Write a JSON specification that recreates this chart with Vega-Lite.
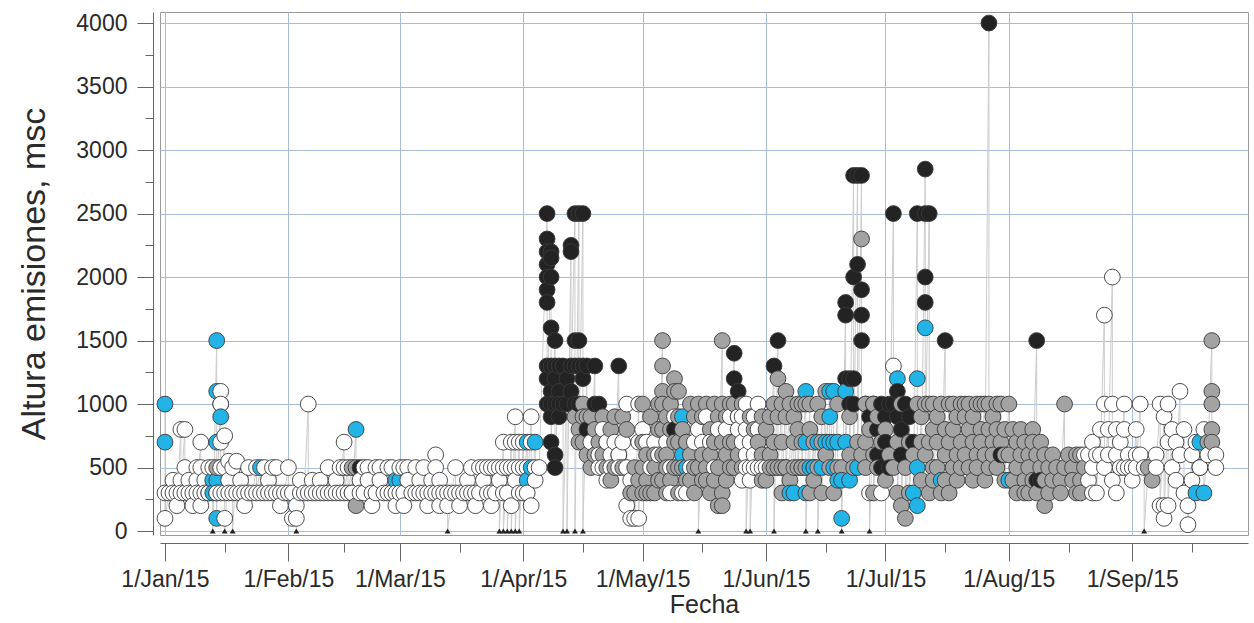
{
"$schema":"https://vega.github.io/schema/vega-lite/v6.json",
"width":1088,"height":523,
"autosize":{"type":"none"},
"padding":{"left":160,"top":12,"right":6,"bottom":88},
"background":"white",
"config":{"view":{"stroke":"#9a9a9a","strokeWidth":1},"font":"Liberation Sans"},
"data":{"values":[
{"d":"2015-01-01","h":1000,"c":"c"},{"d":"2015-01-01","h":700,"c":"c"},{"d":"2015-01-01","h":300,"c":"w"},{"d":"2015-01-01","h":100,"c":"w"},
{"d":"2015-01-02","h":300,"c":"w"},
{"d":"2015-01-03","h":400,"c":"w"},{"d":"2015-01-03","h":300,"c":"w"},
{"d":"2015-01-04","h":300,"c":"w"},{"d":"2015-01-04","h":200,"c":"w"},
{"d":"2015-01-05","h":800,"c":"w"},{"d":"2015-01-05","h":400,"c":"w"},{"d":"2015-01-05","h":300,"c":"w"},
{"d":"2015-01-06","h":800,"c":"w"},{"d":"2015-01-06","h":500,"c":"w"},{"d":"2015-01-06","h":300,"c":"w"},
{"d":"2015-01-07","h":400,"c":"w"},{"d":"2015-01-07","h":300,"c":"w"},
{"d":"2015-01-08","h":300,"c":"w"},{"d":"2015-01-08","h":200,"c":"w"},
{"d":"2015-01-09","h":500,"c":"w"},{"d":"2015-01-09","h":400,"c":"w"},{"d":"2015-01-09","h":300,"c":"w"},
{"d":"2015-01-10","h":700,"c":"w"},{"d":"2015-01-10","h":500,"c":"w"},{"d":"2015-01-10","h":300,"c":"w"},{"d":"2015-01-10","h":200,"c":"w"},
{"d":"2015-01-11","h":400,"c":"w"},{"d":"2015-01-11","h":300,"c":"w"},
{"d":"2015-01-12","h":500,"c":"w"},{"d":"2015-01-12","h":300,"c":"b"},{"d":"2015-01-12","h":300,"c":"w"},
{"d":"2015-01-13","h":400,"c":"c"},{"d":"2015-01-13","h":300,"c":"c"},{"d":"2015-01-13","h":500,"c":"w"},{"d":"2015-01-13","h":0,"c":"t"},
{"d":"2015-01-14","h":1500,"c":"c"},{"d":"2015-01-14","h":1100,"c":"c"},{"d":"2015-01-14","h":700,"c":"c"},{"d":"2015-01-14","h":400,"c":"c"},{"d":"2015-01-14","h":500,"c":"g"},{"d":"2015-01-14","h":300,"c":"c"},{"d":"2015-01-14","h":100,"c":"c"},{"d":"2015-01-14","h":300,"c":"w"},
{"d":"2015-01-15","h":1000,"c":"c"},{"d":"2015-01-15","h":1100,"c":"w"},{"d":"2015-01-15","h":1000,"c":"w"},{"d":"2015-01-15","h":900,"c":"c"},{"d":"2015-01-15","h":700,"c":"w"},{"d":"2015-01-15","h":500,"c":"w"},{"d":"2015-01-15","h":300,"c":"w"},
{"d":"2015-01-16","h":750,"c":"w"},{"d":"2015-01-16","h":500,"c":"w"},{"d":"2015-01-16","h":300,"c":"w"},{"d":"2015-01-16","h":100,"c":"w"},{"d":"2015-01-16","h":0,"c":"t"},
{"d":"2015-01-17","h":550,"c":"w"},{"d":"2015-01-17","h":400,"c":"w"},{"d":"2015-01-17","h":300,"c":"w"},
{"d":"2015-01-18","h":500,"c":"w"},{"d":"2015-01-18","h":300,"c":"w"},{"d":"2015-01-18","h":0,"c":"t"},
{"d":"2015-01-19","h":550,"c":"w"},{"d":"2015-01-19","h":300,"c":"w"},
{"d":"2015-01-20","h":400,"c":"w"},{"d":"2015-01-20","h":300,"c":"w"},
{"d":"2015-01-21","h":300,"c":"w"},{"d":"2015-01-21","h":200,"c":"w"},
{"d":"2015-01-22","h":500,"c":"w"},{"d":"2015-01-22","h":300,"c":"w"},
{"d":"2015-01-23","h":300,"c":"w"},
{"d":"2015-01-24","h":500,"c":"w"},{"d":"2015-01-24","h":300,"c":"w"},
{"d":"2015-01-25","h":500,"c":"c"},{"d":"2015-01-25","h":300,"c":"w"},
{"d":"2015-01-26","h":500,"c":"w"},{"d":"2015-01-26","h":300,"c":"w"},
{"d":"2015-01-27","h":400,"c":"w"},{"d":"2015-01-27","h":300,"c":"w"},
{"d":"2015-01-28","h":500,"c":"w"},{"d":"2015-01-28","h":300,"c":"w"},
{"d":"2015-01-29","h":500,"c":"w"},{"d":"2015-01-29","h":300,"c":"w"},
{"d":"2015-01-30","h":300,"c":"w"},{"d":"2015-01-30","h":200,"c":"w"},
{"d":"2015-01-31","h":300,"c":"w"},
{"d":"2015-02-01","h":500,"c":"w"},{"d":"2015-02-01","h":300,"c":"w"},
{"d":"2015-02-02","h":300,"c":"w"},{"d":"2015-02-02","h":100,"c":"w"},
{"d":"2015-02-03","h":200,"c":"w"},{"d":"2015-02-03","h":100,"c":"w"},{"d":"2015-02-03","h":0,"c":"t"},
{"d":"2015-02-04","h":300,"c":"w"},{"d":"2015-02-04","h":400,"c":"w"},
{"d":"2015-02-05","h":300,"c":"w"},
{"d":"2015-02-06","h":1000,"c":"w"},{"d":"2015-02-06","h":300,"c":"w"},
{"d":"2015-02-07","h":400,"c":"w"},{"d":"2015-02-07","h":300,"c":"w"},
{"d":"2015-02-08","h":300,"c":"w"},
{"d":"2015-02-09","h":400,"c":"w"},{"d":"2015-02-09","h":300,"c":"w"},
{"d":"2015-02-10","h":300,"c":"w"},
{"d":"2015-02-11","h":500,"c":"w"},{"d":"2015-02-11","h":300,"c":"w"},
{"d":"2015-02-12","h":300,"c":"w"},
{"d":"2015-02-13","h":400,"c":"w"},{"d":"2015-02-13","h":300,"c":"w"},
{"d":"2015-02-14","h":500,"c":"w"},{"d":"2015-02-14","h":300,"c":"w"},
{"d":"2015-02-15","h":700,"c":"w"},{"d":"2015-02-15","h":500,"c":"w"},{"d":"2015-02-15","h":300,"c":"w"},
{"d":"2015-02-16","h":500,"c":"w"},{"d":"2015-02-16","h":300,"c":"w"},
{"d":"2015-02-17","h":500,"c":"g"},{"d":"2015-02-17","h":300,"c":"c"},{"d":"2015-02-17","h":300,"c":"w"},
{"d":"2015-02-18","h":800,"c":"c"},{"d":"2015-02-18","h":500,"c":"g"},{"d":"2015-02-18","h":200,"c":"g"},
{"d":"2015-02-19","h":500,"c":"b"},{"d":"2015-02-19","h":400,"c":"w"},{"d":"2015-02-19","h":300,"c":"w"},
{"d":"2015-02-20","h":500,"c":"w"},{"d":"2015-02-20","h":300,"c":"w"},
{"d":"2015-02-21","h":500,"c":"w"},{"d":"2015-02-21","h":400,"c":"w"},
{"d":"2015-02-22","h":300,"c":"w"},{"d":"2015-02-22","h":200,"c":"w"},
{"d":"2015-02-23","h":500,"c":"w"},{"d":"2015-02-23","h":300,"c":"w"},
{"d":"2015-02-24","h":500,"c":"w"},{"d":"2015-02-24","h":400,"c":"w"},
{"d":"2015-02-25","h":300,"c":"w"},
{"d":"2015-02-26","h":500,"c":"w"},{"d":"2015-02-26","h":300,"c":"w"},
{"d":"2015-02-27","h":500,"c":"w"},{"d":"2015-02-27","h":300,"c":"w"},
{"d":"2015-02-28","h":400,"c":"c"},{"d":"2015-02-28","h":300,"c":"w"},{"d":"2015-02-28","h":200,"c":"w"},
{"d":"2015-03-01","h":400,"c":"c"},{"d":"2015-03-01","h":500,"c":"w"},{"d":"2015-03-01","h":300,"c":"w"},
{"d":"2015-03-02","h":500,"c":"w"},{"d":"2015-03-02","h":300,"c":"w"},{"d":"2015-03-02","h":200,"c":"w"},
{"d":"2015-03-03","h":500,"c":"w"},{"d":"2015-03-03","h":400,"c":"w"},
{"d":"2015-03-04","h":300,"c":"w"},
{"d":"2015-03-05","h":500,"c":"w"},{"d":"2015-03-05","h":300,"c":"w"},
{"d":"2015-03-06","h":400,"c":"w"},{"d":"2015-03-06","h":300,"c":"w"},
{"d":"2015-03-07","h":500,"c":"w"},{"d":"2015-03-07","h":300,"c":"w"},
{"d":"2015-03-08","h":300,"c":"w"},{"d":"2015-03-08","h":200,"c":"w"},
{"d":"2015-03-09","h":400,"c":"w"},{"d":"2015-03-09","h":300,"c":"w"},
{"d":"2015-03-10","h":600,"c":"w"},{"d":"2015-03-10","h":500,"c":"w"},{"d":"2015-03-10","h":300,"c":"w"},
{"d":"2015-03-11","h":400,"c":"w"},{"d":"2015-03-11","h":300,"c":"w"},{"d":"2015-03-11","h":200,"c":"w"},
{"d":"2015-03-12","h":300,"c":"w"},
{"d":"2015-03-13","h":300,"c":"w"},{"d":"2015-03-13","h":200,"c":"w"},{"d":"2015-03-13","h":0,"c":"t"},
{"d":"2015-03-14","h":300,"c":"w"},
{"d":"2015-03-15","h":500,"c":"w"},{"d":"2015-03-15","h":300,"c":"w"},
{"d":"2015-03-16","h":300,"c":"w"},{"d":"2015-03-16","h":200,"c":"w"},
{"d":"2015-03-17","h":300,"c":"w"},
{"d":"2015-03-18","h":400,"c":"w"},{"d":"2015-03-18","h":300,"c":"w"},
{"d":"2015-03-19","h":500,"c":"w"},{"d":"2015-03-19","h":300,"c":"w"},
{"d":"2015-03-20","h":300,"c":"w"},{"d":"2015-03-20","h":200,"c":"w"},
{"d":"2015-03-21","h":500,"c":"w"},{"d":"2015-03-21","h":300,"c":"w"},
{"d":"2015-03-22","h":500,"c":"w"},{"d":"2015-03-22","h":400,"c":"w"},
{"d":"2015-03-23","h":500,"c":"w"},{"d":"2015-03-23","h":300,"c":"w"},
{"d":"2015-03-24","h":500,"c":"w"},{"d":"2015-03-24","h":300,"c":"w"},{"d":"2015-03-24","h":200,"c":"w"},
{"d":"2015-03-25","h":500,"c":"w"},{"d":"2015-03-25","h":300,"c":"w"},
{"d":"2015-03-26","h":500,"c":"w"},{"d":"2015-03-26","h":400,"c":"w"},{"d":"2015-03-26","h":0,"c":"t"},
{"d":"2015-03-27","h":700,"c":"w"},{"d":"2015-03-27","h":500,"c":"w"},{"d":"2015-03-27","h":300,"c":"w"},{"d":"2015-03-27","h":0,"c":"t"},
{"d":"2015-03-28","h":500,"c":"w"},{"d":"2015-03-28","h":300,"c":"w"},{"d":"2015-03-28","h":0,"c":"t"},
{"d":"2015-03-29","h":700,"c":"w"},{"d":"2015-03-29","h":500,"c":"w"},{"d":"2015-03-29","h":200,"c":"w"},{"d":"2015-03-29","h":0,"c":"t"},
{"d":"2015-03-30","h":900,"c":"w"},{"d":"2015-03-30","h":700,"c":"w"},{"d":"2015-03-30","h":500,"c":"w"},{"d":"2015-03-30","h":400,"c":"w"},{"d":"2015-03-30","h":0,"c":"t"},
{"d":"2015-03-31","h":700,"c":"w"},{"d":"2015-03-31","h":500,"c":"w"},{"d":"2015-03-31","h":300,"c":"w"},{"d":"2015-03-31","h":0,"c":"t"},
{"d":"2015-04-01","h":700,"c":"w"},{"d":"2015-04-01","h":500,"c":"w"},{"d":"2015-04-01","h":300,"c":"w"},
{"d":"2015-04-02","h":700,"c":"c"},{"d":"2015-04-02","h":500,"c":"w"},{"d":"2015-04-02","h":400,"c":"c"},{"d":"2015-04-02","h":300,"c":"w"},
{"d":"2015-04-03","h":900,"c":"w"},{"d":"2015-04-03","h":700,"c":"w"},{"d":"2015-04-03","h":500,"c":"c"},{"d":"2015-04-03","h":200,"c":"w"},
{"d":"2015-04-04","h":700,"c":"c"},{"d":"2015-04-04","h":500,"c":"w"},{"d":"2015-04-04","h":400,"c":"w"},
{"d":"2015-04-05","h":500,"c":"w"},
{"d":"2015-04-07","h":2500,"c":"b"},{"d":"2015-04-07","h":2300,"c":"b"},{"d":"2015-04-07","h":2200,"c":"b"},{"d":"2015-04-07","h":2100,"c":"b"},{"d":"2015-04-07","h":2000,"c":"b"},{"d":"2015-04-07","h":1900,"c":"b"},{"d":"2015-04-07","h":1800,"c":"b"},{"d":"2015-04-07","h":1300,"c":"b"},{"d":"2015-04-07","h":1200,"c":"b"},{"d":"2015-04-07","h":1000,"c":"b"},
{"d":"2015-04-08","h":2200,"c":"b"},{"d":"2015-04-08","h":2150,"c":"b"},{"d":"2015-04-08","h":2000,"c":"b"},{"d":"2015-04-08","h":1600,"c":"b"},{"d":"2015-04-08","h":1300,"c":"b"},{"d":"2015-04-08","h":1100,"c":"b"},{"d":"2015-04-08","h":1000,"c":"b"},{"d":"2015-04-08","h":900,"c":"b"},{"d":"2015-04-08","h":700,"c":"b"},
{"d":"2015-04-09","h":1500,"c":"b"},{"d":"2015-04-09","h":1300,"c":"b"},{"d":"2015-04-09","h":1200,"c":"b"},{"d":"2015-04-09","h":1000,"c":"b"},{"d":"2015-04-09","h":600,"c":"b"},{"d":"2015-04-09","h":500,"c":"b"},
{"d":"2015-04-10","h":1300,"c":"b"},{"d":"2015-04-10","h":1100,"c":"b"},{"d":"2015-04-10","h":1000,"c":"b"},{"d":"2015-04-10","h":900,"c":"b"},
{"d":"2015-04-11","h":1300,"c":"b"},{"d":"2015-04-11","h":1000,"c":"b"},{"d":"2015-04-11","h":0,"c":"t"},
{"d":"2015-04-12","h":1200,"c":"b"},{"d":"2015-04-12","h":1000,"c":"b"},{"d":"2015-04-12","h":0,"c":"t"},
{"d":"2015-04-13","h":2250,"c":"b"},{"d":"2015-04-13","h":2200,"c":"b"},{"d":"2015-04-13","h":1300,"c":"b"},{"d":"2015-04-13","h":1100,"c":"b"},
{"d":"2015-04-14","h":2500,"c":"b"},{"d":"2015-04-14","h":1500,"c":"b"},{"d":"2015-04-14","h":1300,"c":"b"},{"d":"2015-04-14","h":1000,"c":"b"},{"d":"2015-04-14","h":900,"c":"g"},{"d":"2015-04-14","h":0,"c":"t"},
{"d":"2015-04-15","h":2500,"c":"b"},{"d":"2015-04-15","h":1500,"c":"b"},{"d":"2015-04-15","h":1300,"c":"b"},{"d":"2015-04-15","h":1000,"c":"b"},{"d":"2015-04-15","h":800,"c":"g"},{"d":"2015-04-15","h":700,"c":"g"},
{"d":"2015-04-16","h":2500,"c":"b"},{"d":"2015-04-16","h":1300,"c":"b"},{"d":"2015-04-16","h":1200,"c":"b"},{"d":"2015-04-16","h":1000,"c":"g"},{"d":"2015-04-16","h":900,"c":"g"},{"d":"2015-04-16","h":700,"c":"g"},{"d":"2015-04-16","h":0,"c":"t"},
{"d":"2015-04-17","h":1300,"c":"b"},{"d":"2015-04-17","h":900,"c":"g"},{"d":"2015-04-17","h":800,"c":"b"},{"d":"2015-04-17","h":600,"c":"g"},
{"d":"2015-04-18","h":900,"c":"g"},{"d":"2015-04-18","h":700,"c":"w"},{"d":"2015-04-18","h":500,"c":"g"},
{"d":"2015-04-19","h":1300,"c":"b"},{"d":"2015-04-19","h":1000,"c":"b"},{"d":"2015-04-19","h":800,"c":"g"},{"d":"2015-04-19","h":600,"c":"g"},
{"d":"2015-04-20","h":1000,"c":"b"},{"d":"2015-04-20","h":700,"c":"g"},{"d":"2015-04-20","h":600,"c":"w"},{"d":"2015-04-20","h":500,"c":"w"},
{"d":"2015-04-21","h":900,"c":"g"},{"d":"2015-04-21","h":800,"c":"w"},{"d":"2015-04-21","h":600,"c":"g"},{"d":"2015-04-21","h":500,"c":"w"},
{"d":"2015-04-22","h":700,"c":"g"},{"d":"2015-04-22","h":700,"c":"w"},{"d":"2015-04-22","h":500,"c":"g"},{"d":"2015-04-22","h":400,"c":"w"},
{"d":"2015-04-23","h":800,"c":"g"},{"d":"2015-04-23","h":600,"c":"w"},{"d":"2015-04-23","h":500,"c":"w"},{"d":"2015-04-23","h":400,"c":"g"},
{"d":"2015-04-24","h":900,"c":"g"},{"d":"2015-04-24","h":700,"c":"w"},{"d":"2015-04-24","h":500,"c":"g"},
{"d":"2015-04-25","h":1300,"c":"b"},{"d":"2015-04-25","h":600,"c":"g"},{"d":"2015-04-25","h":600,"c":"w"},{"d":"2015-04-25","h":500,"c":"w"},
{"d":"2015-04-26","h":900,"c":"g"},{"d":"2015-04-26","h":700,"c":"w"},{"d":"2015-04-26","h":500,"c":"g"},
{"d":"2015-04-27","h":1000,"c":"w"},{"d":"2015-04-27","h":800,"c":"g"},{"d":"2015-04-27","h":500,"c":"w"},{"d":"2015-04-27","h":200,"c":"w"},
{"d":"2015-04-28","h":400,"c":"w"},{"d":"2015-04-28","h":300,"c":"g"},{"d":"2015-04-28","h":100,"c":"w"},
{"d":"2015-04-29","h":500,"c":"g"},{"d":"2015-04-29","h":300,"c":"g"},{"d":"2015-04-29","h":100,"c":"w"},
{"d":"2015-04-30","h":1000,"c":"w"},{"d":"2015-04-30","h":700,"c":"w"},{"d":"2015-04-30","h":400,"c":"g"},{"d":"2015-04-30","h":100,"c":"w"},
{"d":"2015-05-01","h":1000,"c":"g"},{"d":"2015-05-01","h":800,"c":"w"},{"d":"2015-05-01","h":700,"c":"g"},{"d":"2015-05-01","h":500,"c":"g"},{"d":"2015-05-01","h":300,"c":"g"},
{"d":"2015-05-02","h":700,"c":"w"},{"d":"2015-05-02","h":600,"c":"g"},{"d":"2015-05-02","h":400,"c":"g"},{"d":"2015-05-02","h":300,"c":"g"},
{"d":"2015-05-03","h":900,"c":"g"},{"d":"2015-05-03","h":500,"c":"w"},{"d":"2015-05-03","h":300,"c":"g"},
{"d":"2015-05-04","h":700,"c":"w"},{"d":"2015-05-04","h":600,"c":"g"},{"d":"2015-05-04","h":500,"c":"g"},{"d":"2015-05-04","h":300,"c":"g"},
{"d":"2015-05-05","h":1000,"c":"g"},{"d":"2015-05-05","h":800,"c":"g"},{"d":"2015-05-05","h":600,"c":"w"},{"d":"2015-05-05","h":400,"c":"g"},
{"d":"2015-05-06","h":1500,"c":"g"},{"d":"2015-05-06","h":1300,"c":"g"},{"d":"2015-05-06","h":1100,"c":"g"},{"d":"2015-05-06","h":1000,"c":"g"},{"d":"2015-05-06","h":800,"c":"g"},{"d":"2015-05-06","h":600,"c":"g"},{"d":"2015-05-06","h":400,"c":"g"},
{"d":"2015-05-07","h":900,"c":"g"},{"d":"2015-05-07","h":700,"c":"w"},{"d":"2015-05-07","h":600,"c":"g"},{"d":"2015-05-07","h":500,"c":"g"},{"d":"2015-05-07","h":300,"c":"g"},
{"d":"2015-05-08","h":1000,"c":"g"},{"d":"2015-05-08","h":800,"c":"g"},{"d":"2015-05-08","h":500,"c":"w"},{"d":"2015-05-08","h":400,"c":"g"},{"d":"2015-05-08","h":300,"c":"w"},
{"d":"2015-05-09","h":1200,"c":"g"},{"d":"2015-05-09","h":1100,"c":"g"},{"d":"2015-05-09","h":900,"c":"w"},{"d":"2015-05-09","h":800,"c":"b"},{"d":"2015-05-09","h":700,"c":"g"},{"d":"2015-05-09","h":500,"c":"g"},
{"d":"2015-05-10","h":1100,"c":"g"},{"d":"2015-05-10","h":900,"c":"g"},{"d":"2015-05-10","h":700,"c":"g"},{"d":"2015-05-10","h":500,"c":"g"},{"d":"2015-05-10","h":300,"c":"g"},
{"d":"2015-05-11","h":900,"c":"c"},{"d":"2015-05-11","h":800,"c":"g"},{"d":"2015-05-11","h":600,"c":"c"},{"d":"2015-05-11","h":500,"c":"g"},{"d":"2015-05-11","h":300,"c":"w"},
{"d":"2015-05-12","h":700,"c":"c"},{"d":"2015-05-12","h":700,"c":"g"},{"d":"2015-05-12","h":500,"c":"c"},{"d":"2015-05-12","h":400,"c":"g"},{"d":"2015-05-12","h":300,"c":"w"},
{"d":"2015-05-13","h":1000,"c":"g"},{"d":"2015-05-13","h":600,"c":"g"},{"d":"2015-05-13","h":500,"c":"w"},{"d":"2015-05-13","h":400,"c":"g"},
{"d":"2015-05-14","h":900,"c":"g"},{"d":"2015-05-14","h":700,"c":"w"},{"d":"2015-05-14","h":500,"c":"g"},{"d":"2015-05-14","h":300,"c":"g"},
{"d":"2015-05-15","h":1000,"c":"g"},{"d":"2015-05-15","h":800,"c":"w"},{"d":"2015-05-15","h":500,"c":"g"},{"d":"2015-05-15","h":0,"c":"t"},
{"d":"2015-05-16","h":900,"c":"g"},{"d":"2015-05-16","h":700,"c":"w"},{"d":"2015-05-16","h":600,"c":"g"},{"d":"2015-05-16","h":400,"c":"g"},
{"d":"2015-05-17","h":1000,"c":"g"},{"d":"2015-05-17","h":900,"c":"w"},{"d":"2015-05-17","h":500,"c":"g"},{"d":"2015-05-17","h":400,"c":"g"},
{"d":"2015-05-18","h":800,"c":"g"},{"d":"2015-05-18","h":700,"c":"w"},{"d":"2015-05-18","h":600,"c":"g"},{"d":"2015-05-18","h":300,"c":"g"},
{"d":"2015-05-19","h":1000,"c":"g"},{"d":"2015-05-19","h":700,"c":"g"},{"d":"2015-05-19","h":500,"c":"w"},{"d":"2015-05-19","h":400,"c":"g"},
{"d":"2015-05-20","h":900,"c":"g"},{"d":"2015-05-20","h":800,"c":"w"},{"d":"2015-05-20","h":500,"c":"g"},{"d":"2015-05-20","h":200,"c":"g"},
{"d":"2015-05-21","h":1500,"c":"g"},{"d":"2015-05-21","h":1000,"c":"g"},{"d":"2015-05-21","h":700,"c":"g"},{"d":"2015-05-21","h":300,"c":"g"},{"d":"2015-05-21","h":200,"c":"g"},
{"d":"2015-05-22","h":900,"c":"g"},{"d":"2015-05-22","h":800,"c":"w"},{"d":"2015-05-22","h":600,"c":"g"},{"d":"2015-05-22","h":400,"c":"g"},
{"d":"2015-05-23","h":1000,"c":"g"},{"d":"2015-05-23","h":900,"c":"w"},{"d":"2015-05-23","h":700,"c":"g"},{"d":"2015-05-23","h":500,"c":"g"},
{"d":"2015-05-24","h":1400,"c":"b"},{"d":"2015-05-24","h":1200,"c":"b"},{"d":"2015-05-24","h":1000,"c":"g"},{"d":"2015-05-24","h":700,"c":"g"},{"d":"2015-05-24","h":500,"c":"g"},
{"d":"2015-05-25","h":1100,"c":"b"},{"d":"2015-05-25","h":900,"c":"g"},{"d":"2015-05-25","h":900,"c":"w"},{"d":"2015-05-25","h":800,"c":"w"},{"d":"2015-05-25","h":600,"c":"g"},
{"d":"2015-05-26","h":1000,"c":"g"},{"d":"2015-05-26","h":900,"c":"w"},{"d":"2015-05-26","h":700,"c":"w"},{"d":"2015-05-26","h":500,"c":"g"},{"d":"2015-05-26","h":400,"c":"w"},
{"d":"2015-05-27","h":1000,"c":"w"},{"d":"2015-05-27","h":800,"c":"w"},{"d":"2015-05-27","h":600,"c":"w"},{"d":"2015-05-27","h":500,"c":"w"},{"d":"2015-05-27","h":0,"c":"t"},
{"d":"2015-05-28","h":900,"c":"g"},{"d":"2015-05-28","h":700,"c":"w"},{"d":"2015-05-28","h":500,"c":"w"},{"d":"2015-05-28","h":400,"c":"w"},{"d":"2015-05-28","h":0,"c":"t"},
{"d":"2015-05-29","h":900,"c":"w"},{"d":"2015-05-29","h":800,"c":"g"},{"d":"2015-05-29","h":600,"c":"w"},{"d":"2015-05-29","h":500,"c":"w"},
{"d":"2015-05-30","h":1000,"c":"w"},{"d":"2015-05-30","h":800,"c":"w"},{"d":"2015-05-30","h":700,"c":"g"},{"d":"2015-05-30","h":500,"c":"w"},
{"d":"2015-05-31","h":900,"c":"g"},{"d":"2015-05-31","h":600,"c":"g"},{"d":"2015-05-31","h":500,"c":"w"},{"d":"2015-05-31","h":400,"c":"g"},
{"d":"2015-06-01","h":800,"c":"g"},{"d":"2015-06-01","h":500,"c":"w"},{"d":"2015-06-01","h":400,"c":"g"},
{"d":"2015-06-02","h":900,"c":"g"},{"d":"2015-06-02","h":600,"c":"g"},{"d":"2015-06-02","h":500,"c":"g"},
{"d":"2015-06-03","h":1300,"c":"b"},{"d":"2015-06-03","h":1000,"c":"g"},{"d":"2015-06-03","h":700,"c":"g"},{"d":"2015-06-03","h":500,"c":"g"},{"d":"2015-06-03","h":0,"c":"t"},
{"d":"2015-06-04","h":1500,"c":"b"},{"d":"2015-06-04","h":1200,"c":"g"},{"d":"2015-06-04","h":900,"c":"g"},{"d":"2015-06-04","h":500,"c":"g"},
{"d":"2015-06-05","h":1000,"c":"g"},{"d":"2015-06-05","h":700,"c":"g"},{"d":"2015-06-05","h":500,"c":"g"},{"d":"2015-06-05","h":300,"c":"g"},
{"d":"2015-06-06","h":1100,"c":"g"},{"d":"2015-06-06","h":900,"c":"g"},{"d":"2015-06-06","h":500,"c":"c"},{"d":"2015-06-06","h":500,"c":"g"},
{"d":"2015-06-07","h":1000,"c":"g"},{"d":"2015-06-07","h":400,"c":"g"},{"d":"2015-06-07","h":300,"c":"c"},
{"d":"2015-06-08","h":900,"c":"g"},{"d":"2015-06-08","h":700,"c":"g"},{"d":"2015-06-08","h":500,"c":"g"},{"d":"2015-06-08","h":300,"c":"c"},
{"d":"2015-06-09","h":1000,"c":"g"},{"d":"2015-06-09","h":800,"c":"g"},{"d":"2015-06-09","h":500,"c":"g"},
{"d":"2015-06-10","h":1000,"c":"g"},{"d":"2015-06-10","h":700,"c":"g"},{"d":"2015-06-10","h":500,"c":"c"},{"d":"2015-06-10","h":500,"c":"g"},
{"d":"2015-06-11","h":1100,"c":"c"},{"d":"2015-06-11","h":1000,"c":"g"},{"d":"2015-06-11","h":700,"c":"c"},{"d":"2015-06-11","h":500,"c":"g"},{"d":"2015-06-11","h":300,"c":"c"},{"d":"2015-06-11","h":0,"c":"t"},
{"d":"2015-06-12","h":1000,"c":"g"},{"d":"2015-06-12","h":800,"c":"g"},{"d":"2015-06-12","h":500,"c":"c"},{"d":"2015-06-12","h":300,"c":"g"},
{"d":"2015-06-13","h":700,"c":"g"},{"d":"2015-06-13","h":500,"c":"g"},{"d":"2015-06-13","h":500,"c":"c"},{"d":"2015-06-13","h":400,"c":"g"},
{"d":"2015-06-14","h":1000,"c":"g"},{"d":"2015-06-14","h":700,"c":"c"},{"d":"2015-06-14","h":500,"c":"g"},{"d":"2015-06-14","h":0,"c":"t"},
{"d":"2015-06-15","h":900,"c":"g"},{"d":"2015-06-15","h":700,"c":"g"},{"d":"2015-06-15","h":500,"c":"c"},{"d":"2015-06-15","h":300,"c":"g"},
{"d":"2015-06-16","h":1100,"c":"g"},{"d":"2015-06-16","h":700,"c":"c"},{"d":"2015-06-16","h":600,"c":"g"},
{"d":"2015-06-17","h":1100,"c":"c"},{"d":"2015-06-17","h":900,"c":"c"},{"d":"2015-06-17","h":700,"c":"c"},{"d":"2015-06-17","h":500,"c":"g"},
{"d":"2015-06-18","h":1100,"c":"c"},{"d":"2015-06-18","h":700,"c":"c"},{"d":"2015-06-18","h":500,"c":"c"},{"d":"2015-06-18","h":300,"c":"g"},
{"d":"2015-06-19","h":1000,"c":"g"},{"d":"2015-06-19","h":700,"c":"c"},{"d":"2015-06-19","h":500,"c":"g"},{"d":"2015-06-19","h":400,"c":"c"},
{"d":"2015-06-20","h":500,"c":"g"},{"d":"2015-06-20","h":400,"c":"c"},{"d":"2015-06-20","h":100,"c":"c"},{"d":"2015-06-20","h":0,"c":"t"},
{"d":"2015-06-21","h":1800,"c":"b"},{"d":"2015-06-21","h":1700,"c":"b"},{"d":"2015-06-21","h":1200,"c":"b"},{"d":"2015-06-21","h":1100,"c":"c"},{"d":"2015-06-21","h":700,"c":"c"},
{"d":"2015-06-22","h":1200,"c":"b"},{"d":"2015-06-22","h":1000,"c":"b"},{"d":"2015-06-22","h":900,"c":"g"},{"d":"2015-06-22","h":600,"c":"g"},{"d":"2015-06-22","h":400,"c":"c"},
{"d":"2015-06-23","h":2800,"c":"b"},{"d":"2015-06-23","h":2000,"c":"b"},{"d":"2015-06-23","h":1200,"c":"b"},{"d":"2015-06-23","h":1000,"c":"b"},{"d":"2015-06-23","h":500,"c":"g"},
{"d":"2015-06-24","h":2800,"c":"b"},{"d":"2015-06-24","h":2100,"c":"b"},{"d":"2015-06-24","h":700,"c":"g"},{"d":"2015-06-24","h":500,"c":"c"},
{"d":"2015-06-25","h":2800,"c":"b"},{"d":"2015-06-25","h":2300,"c":"g"},{"d":"2015-06-25","h":1900,"c":"b"},{"d":"2015-06-25","h":1700,"c":"b"},{"d":"2015-06-25","h":1500,"c":"b"},{"d":"2015-06-25","h":600,"c":"g"},
{"d":"2015-06-26","h":1000,"c":"b"},{"d":"2015-06-26","h":1000,"c":"g"},{"d":"2015-06-26","h":700,"c":"g"},{"d":"2015-06-26","h":500,"c":"g"},
{"d":"2015-06-27","h":900,"c":"b"},{"d":"2015-06-27","h":800,"c":"g"},{"d":"2015-06-27","h":300,"c":"w"},{"d":"2015-06-27","h":0,"c":"t"},
{"d":"2015-06-28","h":1000,"c":"b"},{"d":"2015-06-28","h":1000,"c":"g"},{"d":"2015-06-28","h":600,"c":"g"},{"d":"2015-06-28","h":300,"c":"g"},
{"d":"2015-06-29","h":800,"c":"b"},{"d":"2015-06-29","h":900,"c":"g"},{"d":"2015-06-29","h":600,"c":"b"},{"d":"2015-06-29","h":500,"c":"g"},
{"d":"2015-06-30","h":1000,"c":"b"},{"d":"2015-06-30","h":700,"c":"g"},{"d":"2015-06-30","h":500,"c":"b"},{"d":"2015-06-30","h":300,"c":"w"},
{"d":"2015-07-01","h":900,"c":"b"},{"d":"2015-07-01","h":800,"c":"g"},{"d":"2015-07-01","h":700,"c":"b"},{"d":"2015-07-01","h":400,"c":"g"},
{"d":"2015-07-02","h":1000,"c":"b"},{"d":"2015-07-02","h":600,"c":"g"},{"d":"2015-07-02","h":500,"c":"b"},
{"d":"2015-07-03","h":2500,"c":"b"},{"d":"2015-07-03","h":1300,"c":"w"},{"d":"2015-07-03","h":1000,"c":"b"},{"d":"2015-07-03","h":500,"c":"g"},
{"d":"2015-07-04","h":1200,"c":"c"},{"d":"2015-07-04","h":1100,"c":"b"},{"d":"2015-07-04","h":900,"c":"b"},{"d":"2015-07-04","h":700,"c":"g"},{"d":"2015-07-04","h":300,"c":"g"},
{"d":"2015-07-05","h":1000,"c":"g"},{"d":"2015-07-05","h":800,"c":"b"},{"d":"2015-07-05","h":600,"c":"b"},{"d":"2015-07-05","h":200,"c":"g"},
{"d":"2015-07-06","h":1000,"c":"b"},{"d":"2015-07-06","h":500,"c":"g"},{"d":"2015-07-06","h":100,"c":"g"},
{"d":"2015-07-07","h":900,"c":"b"},{"d":"2015-07-07","h":700,"c":"c"},{"d":"2015-07-07","h":700,"c":"g"},{"d":"2015-07-07","h":300,"c":"g"},
{"d":"2015-07-08","h":700,"c":"b"},{"d":"2015-07-08","h":600,"c":"g"},{"d":"2015-07-08","h":300,"c":"c"},
{"d":"2015-07-09","h":2500,"c":"b"},{"d":"2015-07-09","h":1200,"c":"c"},{"d":"2015-07-09","h":1000,"c":"g"},{"d":"2015-07-09","h":500,"c":"c"},{"d":"2015-07-09","h":200,"c":"c"},
{"d":"2015-07-10","h":900,"c":"g"},{"d":"2015-07-10","h":700,"c":"g"},{"d":"2015-07-10","h":400,"c":"g"},
{"d":"2015-07-11","h":2850,"c":"b"},{"d":"2015-07-11","h":2500,"c":"b"},{"d":"2015-07-11","h":2000,"c":"b"},{"d":"2015-07-11","h":1800,"c":"b"},{"d":"2015-07-11","h":1600,"c":"c"},{"d":"2015-07-11","h":1000,"c":"g"},{"d":"2015-07-11","h":600,"c":"g"},
{"d":"2015-07-12","h":2500,"c":"b"},{"d":"2015-07-12","h":1000,"c":"g"},{"d":"2015-07-12","h":700,"c":"g"},{"d":"2015-07-12","h":300,"c":"g"},
{"d":"2015-07-13","h":1000,"c":"g"},{"d":"2015-07-13","h":800,"c":"g"},{"d":"2015-07-13","h":500,"c":"g"},{"d":"2015-07-13","h":400,"c":"g"},
{"d":"2015-07-14","h":900,"c":"g"},{"d":"2015-07-14","h":700,"c":"g"},{"d":"2015-07-14","h":500,"c":"g"},
{"d":"2015-07-15","h":1000,"c":"g"},{"d":"2015-07-15","h":400,"c":"c"},{"d":"2015-07-15","h":300,"c":"g"},
{"d":"2015-07-16","h":1500,"c":"b"},{"d":"2015-07-16","h":800,"c":"g"},{"d":"2015-07-16","h":600,"c":"g"},{"d":"2015-07-16","h":400,"c":"g"},
{"d":"2015-07-17","h":1000,"c":"g"},{"d":"2015-07-17","h":700,"c":"g"},{"d":"2015-07-17","h":300,"c":"g"},
{"d":"2015-07-18","h":1000,"c":"g"},{"d":"2015-07-18","h":800,"c":"g"},{"d":"2015-07-18","h":500,"c":"g"},
{"d":"2015-07-19","h":900,"c":"g"},{"d":"2015-07-19","h":600,"c":"g"},{"d":"2015-07-19","h":400,"c":"g"},
{"d":"2015-07-20","h":1000,"c":"g"},{"d":"2015-07-20","h":700,"c":"g"},{"d":"2015-07-20","h":500,"c":"g"},
{"d":"2015-07-21","h":1000,"c":"g"},{"d":"2015-07-21","h":900,"c":"g"},{"d":"2015-07-21","h":600,"c":"g"},
{"d":"2015-07-22","h":1000,"c":"g"},{"d":"2015-07-22","h":800,"c":"g"},{"d":"2015-07-22","h":500,"c":"g"},
{"d":"2015-07-23","h":900,"c":"g"},{"d":"2015-07-23","h":700,"c":"g"},{"d":"2015-07-23","h":400,"c":"g"},
{"d":"2015-07-24","h":1000,"c":"g"},{"d":"2015-07-24","h":600,"c":"g"},{"d":"2015-07-24","h":500,"c":"g"},
{"d":"2015-07-25","h":1000,"c":"g"},{"d":"2015-07-25","h":800,"c":"g"},{"d":"2015-07-25","h":700,"c":"g"},
{"d":"2015-07-26","h":1000,"c":"g"},{"d":"2015-07-26","h":600,"c":"g"},{"d":"2015-07-26","h":400,"c":"g"},
{"d":"2015-07-27","h":4000,"c":"b"},{"d":"2015-07-27","h":1000,"c":"g"},{"d":"2015-07-27","h":800,"c":"g"},{"d":"2015-07-27","h":500,"c":"g"},
{"d":"2015-07-28","h":900,"c":"g"},{"d":"2015-07-28","h":700,"c":"g"},{"d":"2015-07-28","h":600,"c":"g"},
{"d":"2015-07-29","h":1000,"c":"g"},{"d":"2015-07-29","h":800,"c":"g"},{"d":"2015-07-29","h":500,"c":"g"},
{"d":"2015-07-30","h":1000,"c":"g"},{"d":"2015-07-30","h":700,"c":"g"},{"d":"2015-07-30","h":600,"c":"b"},
{"d":"2015-07-31","h":800,"c":"g"},{"d":"2015-07-31","h":600,"c":"g"},{"d":"2015-07-31","h":400,"c":"g"},
{"d":"2015-08-01","h":1000,"c":"g"},{"d":"2015-08-01","h":600,"c":"g"},{"d":"2015-08-01","h":400,"c":"c"},
{"d":"2015-08-02","h":800,"c":"g"},{"d":"2015-08-02","h":400,"c":"g"},
{"d":"2015-08-03","h":700,"c":"g"},{"d":"2015-08-03","h":500,"c":"g"},{"d":"2015-08-03","h":300,"c":"g"},
{"d":"2015-08-04","h":800,"c":"g"},{"d":"2015-08-04","h":600,"c":"g"},
{"d":"2015-08-05","h":700,"c":"g"},{"d":"2015-08-05","h":400,"c":"g"},{"d":"2015-08-05","h":300,"c":"g"},
{"d":"2015-08-06","h":600,"c":"g"},{"d":"2015-08-06","h":500,"c":"g"},{"d":"2015-08-06","h":300,"c":"g"},
{"d":"2015-08-07","h":800,"c":"g"},{"d":"2015-08-07","h":700,"c":"g"},{"d":"2015-08-07","h":400,"c":"g"},
{"d":"2015-08-08","h":1500,"c":"b"},{"d":"2015-08-08","h":600,"c":"g"},{"d":"2015-08-08","h":400,"c":"b"},{"d":"2015-08-08","h":300,"c":"g"},
{"d":"2015-08-09","h":700,"c":"g"},{"d":"2015-08-09","h":500,"c":"g"},{"d":"2015-08-09","h":400,"c":"b"},
{"d":"2015-08-10","h":600,"c":"g"},{"d":"2015-08-10","h":400,"c":"g"},{"d":"2015-08-10","h":200,"c":"g"},
{"d":"2015-08-11","h":500,"c":"g"},{"d":"2015-08-11","h":300,"c":"g"},
{"d":"2015-08-12","h":600,"c":"g"},{"d":"2015-08-12","h":400,"c":"g"},
{"d":"2015-08-13","h":500,"c":"g"},
{"d":"2015-08-14","h":400,"c":"g"},{"d":"2015-08-14","h":300,"c":"g"},
{"d":"2015-08-15","h":1000,"c":"g"},{"d":"2015-08-15","h":500,"c":"g"},
{"d":"2015-08-16","h":600,"c":"g"},
{"d":"2015-08-17","h":500,"c":"g"},{"d":"2015-08-17","h":400,"c":"g"},
{"d":"2015-08-18","h":600,"c":"g"},{"d":"2015-08-18","h":300,"c":"g"},
{"d":"2015-08-19","h":600,"c":"g"},{"d":"2015-08-19","h":400,"c":"g"},{"d":"2015-08-19","h":300,"c":"g"},
{"d":"2015-08-20","h":600,"c":"w"},{"d":"2015-08-20","h":500,"c":"g"},
{"d":"2015-08-21","h":600,"c":"w"},{"d":"2015-08-21","h":400,"c":"w"},
{"d":"2015-08-22","h":700,"c":"w"},{"d":"2015-08-22","h":500,"c":"w"},{"d":"2015-08-22","h":300,"c":"w"},
{"d":"2015-08-23","h":600,"c":"w"},{"d":"2015-08-23","h":300,"c":"w"},
{"d":"2015-08-24","h":800,"c":"w"},{"d":"2015-08-24","h":600,"c":"w"},
{"d":"2015-08-25","h":1700,"c":"w"},{"d":"2015-08-25","h":1000,"c":"w"},{"d":"2015-08-25","h":500,"c":"w"},
{"d":"2015-08-26","h":800,"c":"w"},{"d":"2015-08-26","h":600,"c":"w"},
{"d":"2015-08-27","h":2000,"c":"w"},{"d":"2015-08-27","h":1000,"c":"w"},{"d":"2015-08-27","h":400,"c":"w"},
{"d":"2015-08-28","h":800,"c":"w"},{"d":"2015-08-28","h":600,"c":"w"},{"d":"2015-08-28","h":300,"c":"w"},
{"d":"2015-08-29","h":700,"c":"w"},{"d":"2015-08-29","h":500,"c":"w"},
{"d":"2015-08-30","h":1000,"c":"w"},{"d":"2015-08-30","h":800,"c":"w"},{"d":"2015-08-30","h":500,"c":"w"},
{"d":"2015-08-31","h":600,"c":"w"},{"d":"2015-08-31","h":500,"c":"w"},
{"d":"2015-09-01","h":500,"c":"w"},{"d":"2015-09-01","h":400,"c":"w"},
{"d":"2015-09-02","h":800,"c":"w"},{"d":"2015-09-02","h":600,"c":"w"},{"d":"2015-09-02","h":500,"c":"w"},
{"d":"2015-09-03","h":1000,"c":"w"},{"d":"2015-09-03","h":600,"c":"w"},
{"d":"2015-09-04","h":500,"c":"w"},{"d":"2015-09-04","h":0,"c":"t"},
{"d":"2015-09-05","h":500,"c":"g"},
{"d":"2015-09-06","h":400,"c":"g"},
{"d":"2015-09-07","h":600,"c":"w"},{"d":"2015-09-07","h":500,"c":"w"},
{"d":"2015-09-08","h":1000,"c":"w"},{"d":"2015-09-08","h":200,"c":"w"},
{"d":"2015-09-09","h":900,"c":"w"},{"d":"2015-09-09","h":200,"c":"w"},{"d":"2015-09-09","h":100,"c":"w"},
{"d":"2015-09-10","h":1000,"c":"w"},{"d":"2015-09-10","h":700,"c":"w"},{"d":"2015-09-10","h":200,"c":"w"},
{"d":"2015-09-11","h":800,"c":"w"},{"d":"2015-09-11","h":500,"c":"w"},
{"d":"2015-09-12","h":700,"c":"w"},{"d":"2015-09-12","h":400,"c":"w"},
{"d":"2015-09-13","h":1100,"c":"w"},{"d":"2015-09-13","h":600,"c":"w"},
{"d":"2015-09-14","h":800,"c":"w"},{"d":"2015-09-14","h":300,"c":"w"},
{"d":"2015-09-15","h":200,"c":"w"},{"d":"2015-09-15","h":50,"c":"w"},
{"d":"2015-09-16","h":600,"c":"w"},{"d":"2015-09-16","h":400,"c":"w"},
{"d":"2015-09-17","h":700,"c":"w"},{"d":"2015-09-17","h":300,"c":"c"},
{"d":"2015-09-18","h":700,"c":"c"},{"d":"2015-09-18","h":500,"c":"c"},{"d":"2015-09-18","h":500,"c":"w"},
{"d":"2015-09-19","h":800,"c":"w"},{"d":"2015-09-19","h":300,"c":"c"},
{"d":"2015-09-20","h":700,"c":"g"},{"d":"2015-09-20","h":600,"c":"w"},
{"d":"2015-09-21","h":1500,"c":"g"},{"d":"2015-09-21","h":1100,"c":"g"},{"d":"2015-09-21","h":1000,"c":"g"},{"d":"2015-09-21","h":800,"c":"g"},{"d":"2015-09-21","h":700,"c":"g"},
{"d":"2015-09-22","h":600,"c":"w"},{"d":"2015-09-22","h":500,"c":"w"}
]},
"encoding":{
"x":{"field":"d","type":"temporal","title":"Fecha",
 "scale":{"domain":["2014-12-30T18:00:00","2015-09-30T02:00:00"],"nice":false},
 "axis":{"offset":8,"format":"%-d/%b/%y",
  "values":[{"year":2015,"month":1,"date":1},{"year":2015,"month":1,"date":16},{"year":2015,"month":2,"date":1},{"year":2015,"month":2,"date":15},{"year":2015,"month":3,"date":1},{"year":2015,"month":3,"date":16},{"year":2015,"month":4,"date":1},{"year":2015,"month":4,"date":16},{"year":2015,"month":5,"date":1},{"year":2015,"month":5,"date":16},{"year":2015,"month":6,"date":1},{"year":2015,"month":6,"date":16},{"year":2015,"month":7,"date":1},{"year":2015,"month":7,"date":16},{"year":2015,"month":8,"date":1},{"year":2015,"month":8,"date":16},{"year":2015,"month":9,"date":1},{"year":2015,"month":9,"date":16}],
  "labelExpr":"date(datum.value)==1 ? datum.label : ''",
  "tickSize":{"condition":{"test":"date(datum.value)==1","value":18},"value":9},
  "gridOpacity":{"condition":{"test":"date(datum.value)==1","value":1},"value":0},
  "grid":true,"gridColor":"#a9bedb","gridWidth":1,
  "domainColor":"#666","tickColor":"#666","labelFontSize":23,"labelColor":"#2a2a2a","labelPadding":7,"labelFlush":false,"labelOverlap":false,
  "titleFontSize":25,"titleFontWeight":"normal","titleColor":"#2a2a2a","titlePadding":1}},
"y":{"field":"h","type":"quantitative","title":"Altura emisiones, msc",
 "scale":{"domain":[-31,4087],"nice":false,"zero":false},
 "axis":{"offset":7,"format":"d",
  "values":[0,250,500,750,1000,1250,1500,1750,2000,2250,2500,2750,3000,3250,3500,3750,4000],
  "labelExpr":"datum.value % 500 == 0 ? datum.label : ''",
  "tickSize":{"condition":{"test":"datum.value % 500 == 0","value":16},"value":8},
  "gridOpacity":{"condition":{"test":"datum.value % 500 == 0","value":1},"value":0},
  "grid":true,"gridColor":"#a9bedb","gridWidth":1,
  "domainColor":"#666","tickColor":"#666","labelFontSize":23,"labelColor":"#2a2a2a","labelPadding":10,"labelOverlap":false,
  "titleFontSize":34,"titleFontWeight":"normal","titleColor":"#2a2a2a","titlePadding":24}}
},
"layer":[
 {"mark":{"type":"line","color":"#cccccc","strokeWidth":1}},
 {"transform":[{"filter":"datum.c != 't'"}],
  "mark":{"type":"point","filled":true,"size":250,"stroke":"#3a3a3a","strokeWidth":0.9,"opacity":1},
  "encoding":{"fill":{"field":"c","type":"nominal","scale":{"domain":["w","c","g","b"],"range":["#ffffff","#22b4e6","#a3a3a3","#232323"]},"legend":null}}},
 {"transform":[{"filter":"datum.c == 't'"}],
  "mark":{"type":"point","shape":"triangle-up","filled":true,"size":35,"color":"#222222","opacity":1}}
]
}
